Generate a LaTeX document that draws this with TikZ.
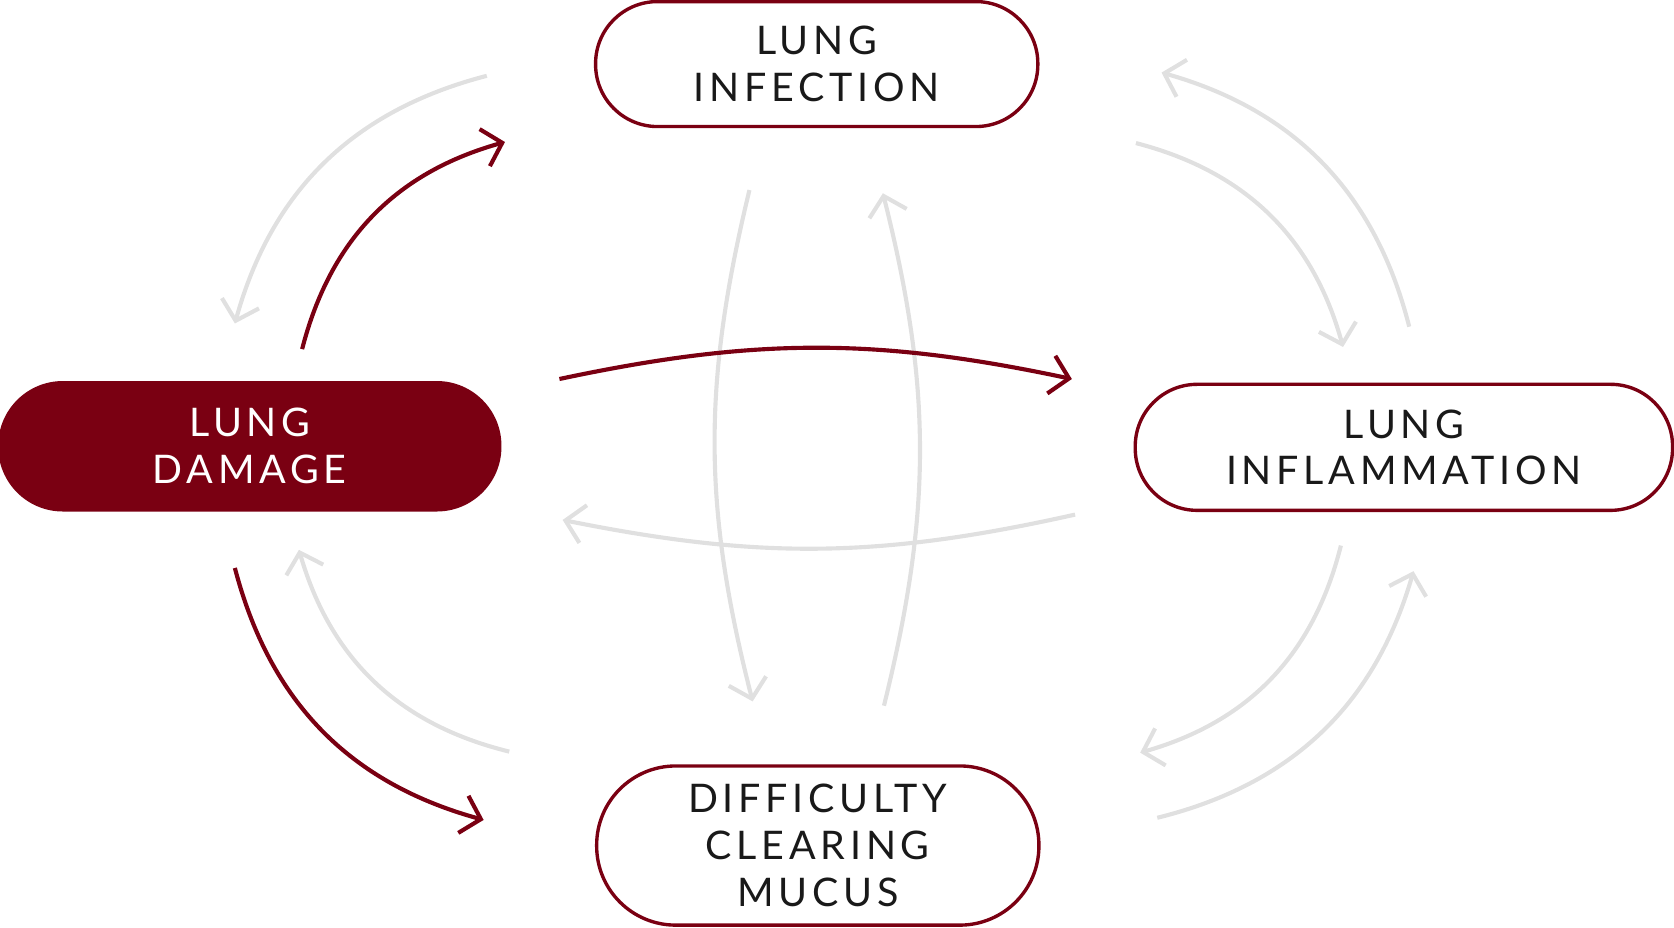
\documentclass[tikz,border=0pt]{standalone}
\usepackage{fontspec}
\setmainfont{Lato}[LetterSpace=12]
\usetikzlibrary{arrows.meta}
\definecolor{wine}{HTML}{7A0012}
\definecolor{pale}{HTML}{E0E0E0}
\begin{document}
\begin{tikzpicture}[x=0.01cm,y=-0.01cm,
	box/.style={draw=wine,line width=0.9pt,rounded corners=0.58cm,minimum width=4.14cm,minimum height=1.17cm,align=center,font=\fontsize{10.5}{12.5}\selectfont,text=black!90},
	cyc/.style={line width=1.1pt,-{Straight Barb[length=1.7mm,width=3.6mm,line width=1.1pt]}},
	red/.style={cyc,draw=wine},
	grey/.style={cyc,draw=pale}]
	\useasboundingbox (0,0) rectangle (1568,869);
	%BOXES
	\node[box] (inf) at (765,60) {LUNG\\INFECTION};
	\node[box,fill=wine,text=white,minimum width=4.68cm,minimum height=1.19cm,rounded corners=0.59cm] (dam) at (234,418) {LUNG\\DAMAGE};
	\node[box,minimum width=5.03cm,minimum height=1.18cm] (infl) at (1315,419) {LUNG\\INFLAMMATION};
	\node[box,minimum height=1.49cm,rounded corners=0.74cm] (muc) at (766,792) {DIFFICULTY\\CLEARING\\MUCUS};
	
	%ENDS
	\coordinate (a1) at (456,71);   \coordinate (b1) at (220,303);
	\coordinate (a2) at (283,327);  \coordinate (b2) at (473,133);
	\coordinate (a3) at (524,355);  \coordinate (b3) at (1004,355);
	\coordinate (a4) at (1007,482); \coordinate (b4) at (527,487);
	\coordinate (a5) at (702,178);  \coordinate (b5) at (705,657);
	\coordinate (a6) at (828,661);  \coordinate (b6) at (827,181);
	\coordinate (a7) at (1320,306); \coordinate (b7) at (1088,68);
	\coordinate (a8) at (1064,134); \coordinate (b8) at (1258,325);
	\coordinate (a9) at (1256,511); \coordinate (b9) at (1068,705);
	\coordinate (a10) at (1084,766); \coordinate (b10) at (1324,535);
	\coordinate (a11) at (220,532); \coordinate (b11) at (453,768);
	\coordinate (a12) at (477,704); \coordinate (b12) at (280,515);
	
	%GREY ARROWS
	\draw[grey] (a1) to[bend right=30] (b1);
	\draw[grey] (a4) to[bend left=12] (b4);
	\draw[grey] (a5) to[bend right=14] (b5);
	\draw[grey] (a6) to[bend right=14] (b6);
	\draw[grey] (a7) to[bend right=30] (b7);
	\draw[grey] (a8) to[bend left=30] (b8);
	\draw[grey] (a9) to[bend left=30] (b9);
	\draw[grey] (a10) to[bend right=30] (b10);
	\draw[grey] (a12) to[bend left=30] (b12);
	
	%RED ARROWS
	\draw[red] (a2) to[bend left=30] (b2);
	\draw[red] (a3) to[bend left=12] (b3);
	\draw[red] (a11) to[bend right=30] (b11);
\end{tikzpicture}
\end{document}
